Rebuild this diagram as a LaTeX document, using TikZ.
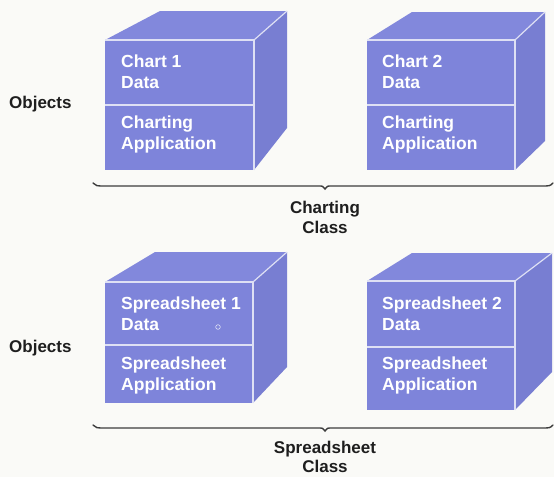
\documentclass[tikz,border=0pt]{standalone}
\usepackage{fontspec}
\setmainfont{Liberation Sans}
\definecolor{bgc}{RGB}{250,250,247}
\definecolor{frontc}{RGB}{126,132,218}
\definecolor{topc}{RGB}{130,136,220}
\definecolor{rightc}{RGB}{120,126,210}
\definecolor{edgec}{RGB}{222,224,244}
\definecolor{inkc}{RGB}{30,30,30}
\definecolor{bracec}{RGB}{60,60,60}
\tikzset{
  facefront/.style={fill=frontc},
  facetop/.style={fill=topc},
  faceright/.style={fill=rightc},
  cubeedge/.style={draw=edgec,line width=1.2pt},
  cubetext/.style={anchor=base west,inner sep=0pt,align=left,text=white,
    font=\bfseries\fontsize{17.5}{20.5}\selectfont},
  labeltext/.style={inner sep=0pt,align=center,text=inkc,
    font=\bfseries\fontsize{17}{20}\selectfont},
  bracket/.style={draw=bracec,line width=1.4pt,line cap=round},
}
\begin{document}
\begin{tikzpicture}[x=1pt,y=-1pt]
\useasboundingbox (0,0) rectangle (554,477);
\fill[bgc] (0,0) rectangle (554,477);

% ---------- cube 1 ----------
\fill[facetop] (105,40) -- (160,11) -- (287,11) -- (254,40) -- cycle;
\fill[faceright] (254,40) -- (287,11) -- (287,128) -- (254,170) -- cycle;
\fill[facefront] (105,40) rectangle (254,170);
\draw[cubeedge] (105,40) -- (254,40) -- (254,170);
\draw[cubeedge] (254,40) -- (287,11);
\draw[cubeedge] (105,105) -- (254,105);
\node[cubetext] (c1a) at (121,88) {Chart 1\\Data};
\node[cubetext] (c1b) at (121,149) {Charting\\Application};

% ---------- cube 2 ----------
\fill[facetop] (367,40) -- (412,12) -- (545,12) -- (515,40) -- cycle;
\fill[faceright] (515,40) -- (545,12) -- (545,141) -- (515,170) -- cycle;
\fill[facefront] (367,40) rectangle (515,170);
\draw[cubeedge] (367,40) -- (515,40) -- (515,170);
\draw[cubeedge] (515,40) -- (545,12);
\draw[cubeedge] (367,105) -- (515,105);
\node[cubetext] (c2a) at (382,88) {Chart 2\\Data};
\node[cubetext] (c2b) at (382,149) {Charting\\Application};

% ---------- cube 3 ----------
\fill[facetop] (105,282) -- (155,252) -- (287,252) -- (253,282) -- cycle;
\fill[faceright] (253,282) -- (287,252) -- (287,367) -- (253,403) -- cycle;
\fill[facefront] (105,282) rectangle (253,403);
\draw[cubeedge] (105,282) -- (253,282) -- (253,403);
\draw[cubeedge] (253,282) -- (287,252);
\draw[cubeedge] (105,345) -- (253,345);
\node[cubetext] (c3a) at (121,330) {Spreadsheet 1\\Data};
\node[cubetext] (c3b) at (121,390) {Spreadsheet\\Application};
\draw[edgec,line width=0.6pt] (218,327) circle (2.3);

% ---------- cube 4 ----------
\fill[facetop] (367,281) -- (412,253) -- (552,253) -- (515,281) -- cycle;
\fill[faceright] (515,281) -- (552,253) -- (552,372) -- (515,410) -- cycle;
\fill[facefront] (367,281) rectangle (515,410);
\draw[cubeedge] (367,281) -- (515,281) -- (515,410);
\draw[cubeedge] (515,281) -- (552,253);
\draw[cubeedge] (367,347) -- (515,347);
\node[cubetext] (c4a) at (382,330) {Spreadsheet 2\\Data};
\node[cubetext] (c4b) at (382,390) {Spreadsheet\\Application};

% ---------- labels ----------
\node[labeltext,anchor=base west] (obj1) at (9,108) {Objects};
\node[labeltext,anchor=base west] (obj2) at (9,352) {Objects};
\node[labeltext,anchor=base] (cls1) at (325,233) {Charting\\Class};
\node[labeltext,anchor=base,font=\bfseries\fontsize{17}{19}\selectfont] (cls2) at (325,472) {Spreadsheet\\Class};

% ---------- brackets ----------
\draw[bracket] (93,183) .. controls (96,186) .. (106,186) -- (318,186)
  .. controls (323,186) .. (325,189) .. controls (327,186) .. (332,186)
  -- (541,186) .. controls (550,186) .. (553,183);
\draw[bracket] (93,425) .. controls (96,428) .. (106,428) -- (318,428)
  .. controls (323,428) .. (325,431) .. controls (327,428) .. (332,428)
  -- (541,428) .. controls (550,428) .. (553,425);
\end{tikzpicture}
\end{document}
